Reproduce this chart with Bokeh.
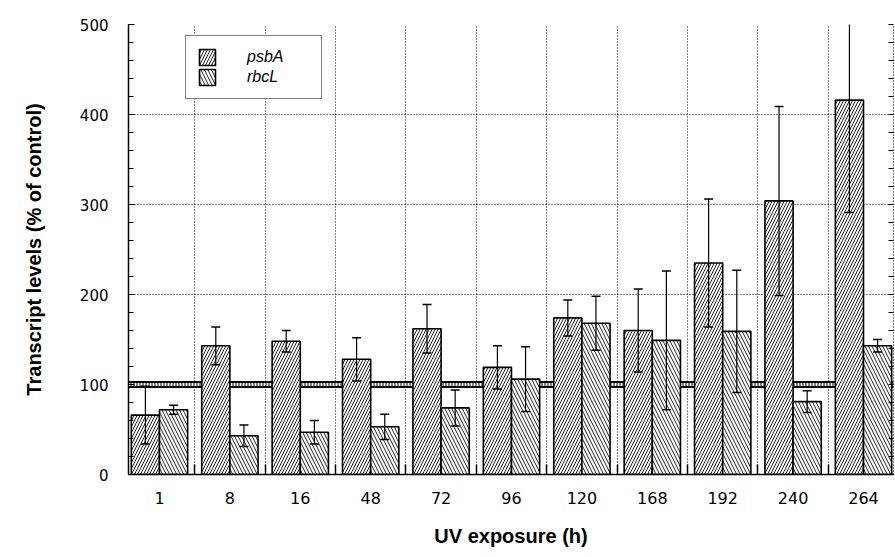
from bokeh.plotting import figure
from bokeh.models import (ColumnDataSource, FixedTicker, SingleIntervalTicker, LinearAxis,
                          Whisker, TeeHead, Legend, LegendItem, Span)
from bokeh.embed import file_html
from bokeh.resources import INLINE

# UV exposure time points (h)
exposure_hours = ["1", "8", "16", "48", "72", "96", "120", "168", "192", "240", "264"]

# Transcript levels, % of control, with error bar half-widths
psba_level = [66, 143, 148, 128, 162, 119, 174, 160, 235, 304, 416]
psba_err = [32, 21, 12, 24, 27, 24, 20, 46, 71, 105, 125]
rbcl_level = [72, 43, 47, 53, 74, 106, 168, 149, 159, 81, 143]
rbcl_err = [5, 12, 13, 14, 20, 36, 30, 77, 68, 12, 7]

control_level = 100
y_max = 500

groups = list(range(len(exposure_hours)))
BAR_W = 0.4


def series_source(levels, errs, shift):
    return ColumnDataSource(dict(
        x=[g + shift for g in groups],
        top=levels,
        lower=[v - e for v, e in zip(levels, errs)],
        upper=[v + e for v, e in zip(levels, errs)],
    ))


src_a = series_source(psba_level, psba_err, -BAR_W / 2)
src_r = series_source(rbcl_level, rbcl_err, BAR_W / 2)

p = figure(width=895, height=557, x_range=(-0.44, 10.426), y_range=(0, y_max),
           output_backend="svg", toolbar_location=None,
           min_border_left=128, min_border_right=2, min_border_top=24, min_border_bottom=83)
p.outline_line_color = None
p.background_fill_color = "white"
p.border_fill_color = "white"

# --- axes ---------------------------------------------------------------
p.yaxis.ticker = SingleIntervalTicker(interval=100, num_minor_ticks=5)
p.yaxis.axis_line_width = 1.5
p.yaxis.major_tick_in = 6
p.yaxis.major_tick_out = 0
p.yaxis.minor_tick_in = 5
p.yaxis.minor_tick_out = 0
p.yaxis.major_label_standoff = 20
p.yaxis.major_label_text_font = "DejaVu Sans"
p.yaxis.major_label_text_font_size = "15px"
p.yaxis.major_label_text_color = "black"
p.yaxis.axis_label = "Transcript levels (% of control)"
p.yaxis.axis_label_text_font = "Liberation Sans"
p.yaxis.axis_label_text_font_style = "bold"
p.yaxis.axis_label_text_font_size = "20px"
p.yaxis.axis_label_text_color = "black"
p.yaxis.axis_label_standoff = 32

boundaries = [g + 0.5 for g in groups[:-1]]
p.xaxis.ticker = FixedTicker(ticks=groups, minor_ticks=boundaries)
p.xaxis.major_label_overrides = {g: lab for g, lab in zip(groups, exposure_hours)}
p.xaxis.axis_line_width = 1.5
p.xaxis.major_tick_in = 0
p.xaxis.major_tick_out = 0
p.xaxis.minor_tick_in = 10
p.xaxis.minor_tick_out = 0
p.xaxis.minor_tick_line_width = 1.5
p.xaxis.major_label_standoff = 17
p.xaxis.major_label_text_font = "DejaVu Sans"
p.xaxis.major_label_text_font_size = "16px"
p.xaxis.major_label_text_color = "black"
p.xaxis.axis_label = "UV exposure (h)"
p.xaxis.axis_label_text_font = "Liberation Sans"
p.xaxis.axis_label_text_font_style = "bold"
p.xaxis.axis_label_text_font_size = "20px"
p.xaxis.axis_label_text_color = "black"
p.xaxis.axis_label_standoff = 18

# right frame edge: dotted line with inward ticks only, no labels
right_axis = LinearAxis(ticker=FixedTicker(ticks=[], minor_ticks=list(range(0, y_max + 1, 20))),
                        axis_line_dash="1 2", major_tick_in=0, major_tick_out=0,
                        minor_tick_in=5, minor_tick_out=0, major_label_standoff=0)
p.add_layout(right_axis, "right")

# --- grid ---------------------------------------------------------------
p.ygrid.grid_line_color = "black"
p.ygrid.grid_line_dash = "1 2"
p.ygrid.grid_line_width = 1
p.xgrid.ticker = FixedTicker(ticks=boundaries)
p.xgrid.grid_line_color = "black"
p.xgrid.grid_line_dash = "1 2"
p.xgrid.grid_line_width = 1

# control (100 %) reference band behind the bars
p.add_layout(Span(location=control_level, dimension="width", line_color="black",
                  line_width=7, level="underlay"))
p.add_layout(Span(location=control_level, dimension="width", line_color="white",
                  line_width=3, line_dash="2 1", level="underlay"))

# --- bars ---------------------------------------------------------------
bars_a = p.vbar(x="x", top="top", width=BAR_W, source=src_a,
                fill_color="white", line_color="black", line_width=1.6,
                hatch_pattern="/", hatch_color="#222222", hatch_weight=1, hatch_scale=6)
bars_r = p.vbar(x="x", top="top", width=BAR_W, source=src_r,
                fill_color="white", line_color="black", line_width=1.6,
                hatch_pattern="\\", hatch_color="#222222", hatch_weight=1, hatch_scale=7)

for src in (src_a, src_r):
    p.add_layout(Whisker(base="x", lower="lower", upper="upper", source=src,
                         line_color="black", line_width=1.2, level="annotation",
                         upper_head=TeeHead(size=9, line_width=1.5, line_color="black"),
                         lower_head=TeeHead(size=9, line_width=1.5, line_color="black")))

legend = Legend(items=[LegendItem(label="psbA", renderers=[bars_a]),
                       LegendItem(label="rbcL", renderers=[bars_r])],
                location=(57, 375), padding=11, spacing=0,
                glyph_width=20, glyph_height=20, label_standoff=30, label_width=63,
                label_text_font="Liberation Sans", label_text_font_style="italic",
                label_text_font_size="16px", label_text_color="black",
                border_line_color="black", border_line_width=1.5,
                background_fill_color="white", background_fill_alpha=1.0)
p.add_layout(legend, "center")

open("out.html", "w").write(file_html(p, INLINE))
